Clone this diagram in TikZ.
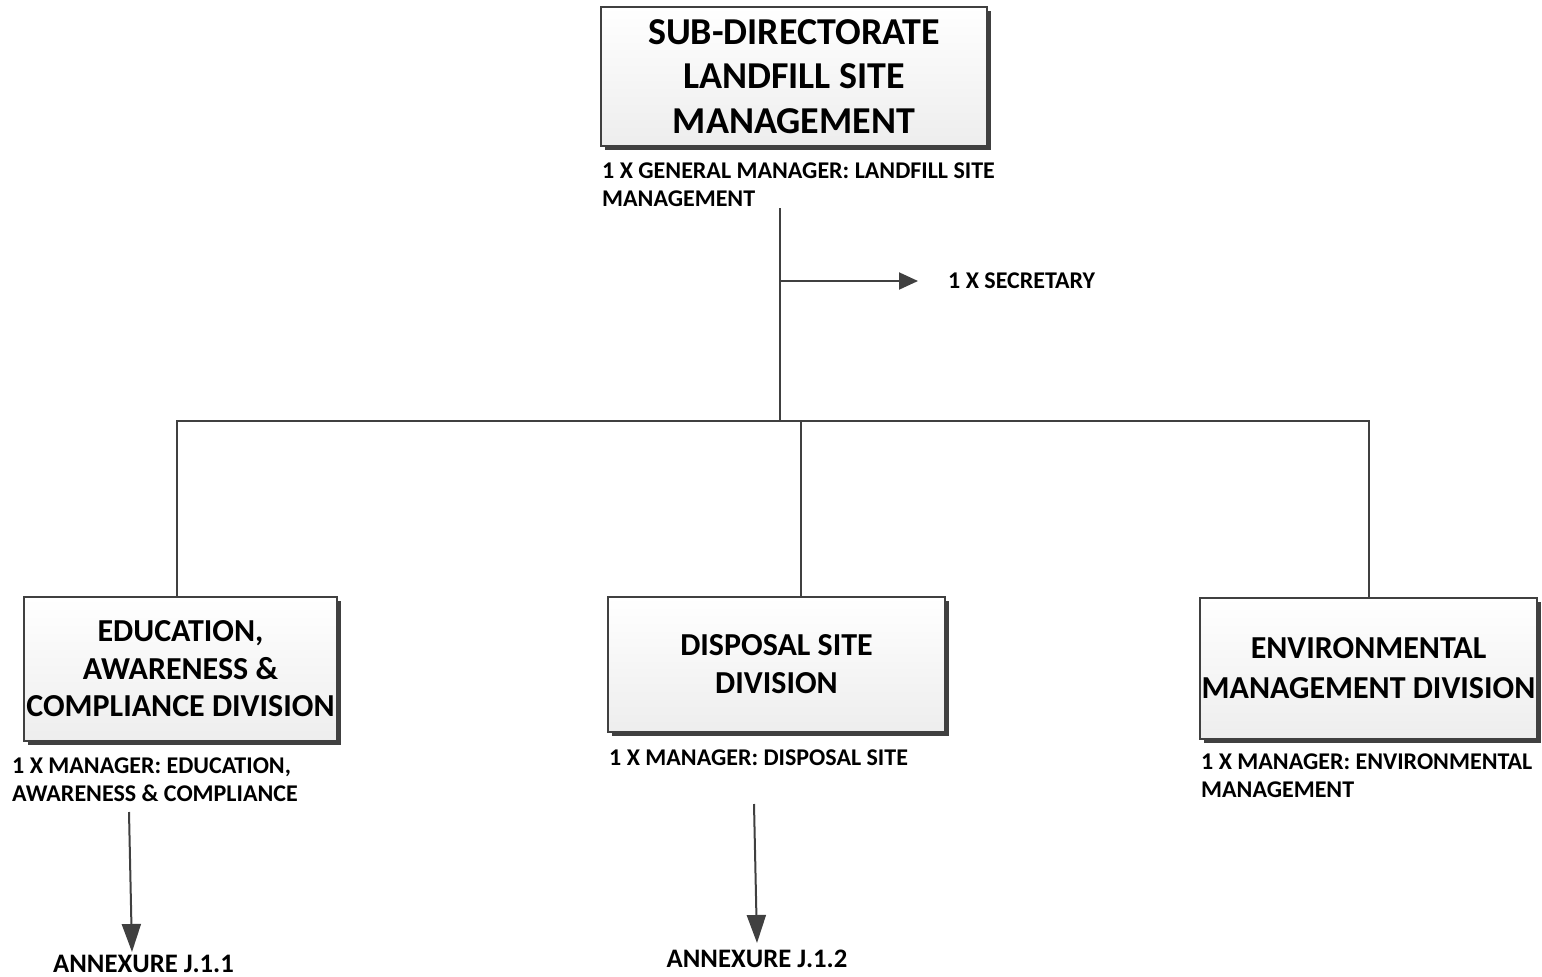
\documentclass[tikz,border=0pt]{standalone}
\usepackage{fontspec}
\setmainfont{Carlito}
\usetikzlibrary{shadows,arrows.meta}
\definecolor{ln}{HTML}{404040}
\tikzset{
  box/.style={draw=ln, line width=2pt, top color=white, bottom color=gray!14,
    drop shadow={shadow xshift=3.5pt, shadow yshift=-3.5pt, fill=ln, opacity=1},
    align=center, inner sep=0pt, font=\bfseries},
  captxt/.style={anchor=west, align=left, inner sep=0pt, font=\bfseries\fontsize{24}{28}\selectfont},
  anntxt/.style={anchor=base, inner sep=0pt, font=\bfseries\fontsize{26.7}{30}\selectfont},
  conn/.style={draw=ln, line width=2pt},
  arr/.style={conn, -{Triangle[length=28pt,width=19pt]}},
  sarr/.style={conn, -{Triangle[length=19pt,width=17pt]}}
}
\begin{document}
\begin{tikzpicture}[x=1pt,y=-1pt]
\useasboundingbox (0,0) rectangle (1542,977);
% top
\node[box, minimum width=386pt, minimum height=139pt, font=\bfseries\fontsize{38}{44.5}\selectfont] (top) at (794,76.5)
  {SUB-DIRECTORATE\\LANDFILL SITE\\MANAGEMENT};
\node[captxt] (gm) at (602,185) {1 X GENERAL MANAGER: LANDFILL SITE\\MANAGEMENT};
\node[captxt] (sec) at (948,281) {1 X SECRETARY};
% divisions
\node[box, minimum width=313pt, minimum height=144pt, font=\bfseries\fontsize{32}{37.5}\selectfont] (ed) at (180.5,669)
  {EDUCATION,\\AWARENESS \&\\COMPLIANCE DIVISION};
\node[box, minimum width=337pt, minimum height=135pt, font=\bfseries\fontsize{32}{38}\selectfont] (ds) at (776.5,664.5)
  {DISPOSAL SITE\\DIVISION};
\node[box, minimum width=337pt, minimum height=141pt, font=\bfseries\fontsize{32}{40}\selectfont] (env) at (1368.5,668.5)
  {ENVIRONMENTAL\\MANAGEMENT DIVISION};
\node[captxt] (edc) at (12,780) {1 X MANAGER: EDUCATION,\\AWARENESS \& COMPLIANCE};
\node[captxt] (dsc) at (609,758) {1 X MANAGER: DISPOSAL SITE};
\node[captxt] (envc) at (1201,775.5) {1 X MANAGER: ENVIRONMENTAL\\MANAGEMENT};
\node[anntxt] (ann1) at (143.5,972) {ANNEXURE J.1.1};
\node[anntxt] (ann2) at (757,967) {ANNEXURE J.1.2};
% connectors
\coordinate (j0) at (780,421);
\coordinate (b0) at (780,281);
\coordinate (t0) at (780,208);
\draw[conn] (t0) -- (j0);
\draw[sarr] (b0) -- ([xshift=-30pt]sec.west);
\draw[conn] (j0) -| ([xshift=-3.5pt]ed.north);
\draw[conn] (j0) -| ([xshift=24.5pt]ds.north);
\draw[conn] (j0) -| (env.north);
\coordinate (s1) at (129,812);
\coordinate (e1) at (132,952);
\coordinate (s2) at (754,804);
\coordinate (e2) at (757,943);
\draw[arr] (s1) -- (e1);
\draw[arr] (s2) -- (e2);
\end{tikzpicture}
\end{document}
